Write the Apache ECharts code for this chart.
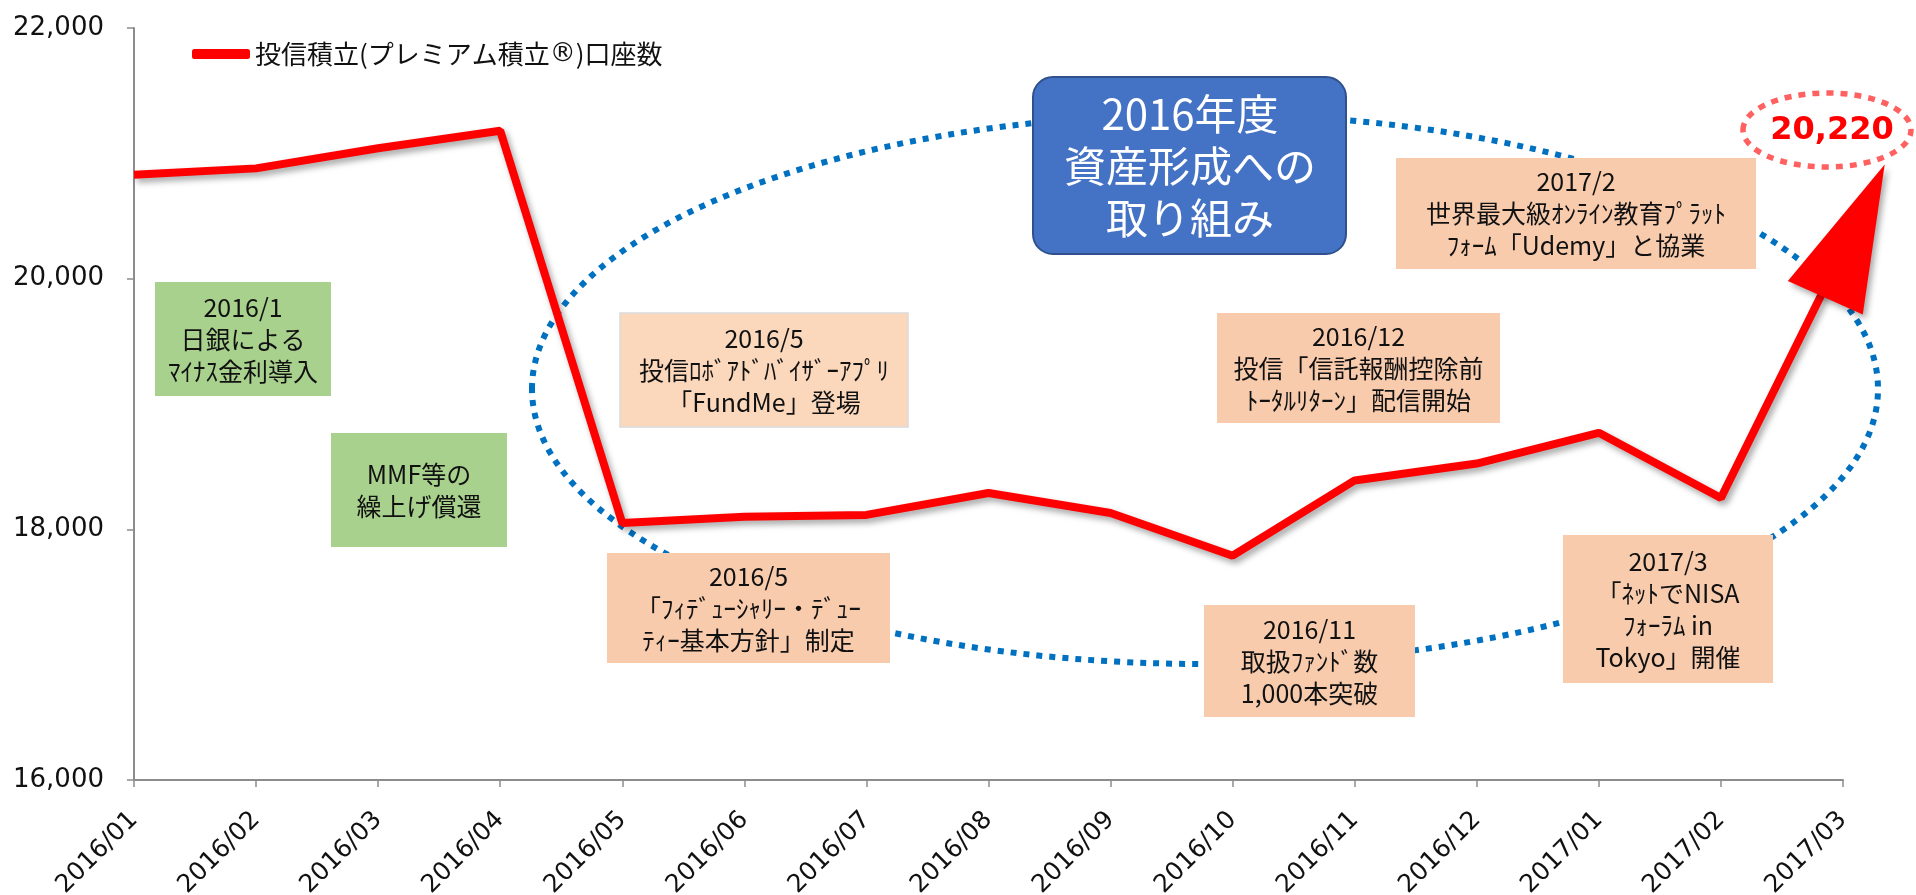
<!DOCTYPE html>
<html>
<head>
<meta charset="utf-8">
<script src="https://cdn.jsdelivr.net/npm/echarts@6/dist/echarts.min.js"></script>
<style>
html,body{margin:0;padding:0;background:#fff;}
#c{width:1916px;height:895px;}
</style>
</head>
<body>
<div id="c"></div>
<script>
// ---- data ----
const categories = ['2016/01','2016/02','2016/03','2016/04','2016/05','2016/06','2016/07','2016/08','2016/09','2016/10','2016/11','2016/12','2017/01','2017/02','2017/03'];
const accounts = [20830, 20880, 21040, 21180, 18050, 18100, 18115, 18290, 18130, 17790, 18390, 18525, 18770, 18250, 20220];
const yMin = 16000, yMax = 22000, yInterval = 2000;
const seriesName = '投信積立(プレミアム積立®)口座数';
const headline = '2016年度\n資産形成への\n取り組み';
const greenNotes = [
  '2016/1\n日銀による\nﾏｲﾅｽ金利導入',
  'MMF等の\n繰上げ償還'
];
const peachNotes = [
  '2016/5\n投信ﾛﾎﾞｱﾄﾞﾊﾞｲｻﾞｰｱﾌﾟﾘ\n「FundMe」登場',
  '2016/5\n「ﾌｨﾃﾞｭｰｼｬﾘｰ・ﾃﾞｭｰ\nﾃｨｰ基本方針」制定',
  '2016/12\n投信「信託報酬控除前\nﾄｰﾀﾙﾘﾀｰﾝ」配信開始',
  '2016/11\n取扱ﾌｧﾝﾄﾞ数\n1,000本突破',
  '2017/3\n「ﾈｯﾄでNISA\nﾌｫｰﾗﾑ in\nTokyo」開催',
  '2017/2\n世界最大級ｵﾝﾗｲﾝ教育ﾌﾟﾗｯﾄ\nﾌｫｰﾑ「Udemy」と協業'
];

// ---- layout / style ----
const JP = "'Noto Sans CJK JP', 'Noto Sans', sans-serif";
const NUM = "'DejaVu Sans', Verdana, sans-serif";
const RED = '#FF0000';

const greenLayout = [
  {x:155, y:282, w:176, h:114},
  {x:331, y:433, w:176, h:114}
];
const peachLayout = [
  {x:620, y:313, w:288, h:114, fill:'#FBD8BC', stroke:'#DADADA'},
  {x:607, y:553, w:283, h:110},
  {x:1217, y:313, w:283, h:110},
  {x:1204, y:605, w:211, h:112},
  {x:1563, y:535, w:210, h:148},
  {x:1396, y:158, w:360, h:111}
];

function boxWithText(txt, L, fill, z) {
  return [
    {type:'rect', z:z, shape:{x:L.x, y:L.y, width:L.w, height:L.h},
     style:{fill:L.fill || fill, stroke:L.stroke || null, lineWidth:L.stroke ? 1.5 : 0}},
    {type:'text', z:z+1, x:L.x + L.w/2, y:L.y + L.h/2,
     style:{text:txt, fill:'#111', font:'25px ' + JP, fontSize:25, fontFamily:JP,
            align:'center', verticalAlign:'middle', textAlign:'center', textVerticalAlign:'middle', lineHeight:32}}
  ];
}

const graphics = [];
// large dotted ellipse
graphics.push({type:'ellipse', z:0, shape:{cx:1205, cy:389, rx:673, ry:275},
  style:{fill:null, stroke:'#0070C0', lineWidth:6, lineDash:[6,7]}});
greenNotes.forEach((t,i)=>graphics.push(...boxWithText(t, greenLayout[i], '#A9D18E', 5)));
peachNotes.forEach((t,i)=>graphics.push(...boxWithText(t, peachLayout[i], '#F8CBAD', 5)));
// headline rounded box
graphics.push({type:'rect', z:5, shape:{x:1033, y:77, width:313, height:177, r:20},
  style:{fill:'#4472C4', stroke:'#2F528F', lineWidth:2}});
graphics.push({type:'text', z:6, x:1190, y:166,
  style:{text:headline, fill:'#fff', font:'42px ' + JP, fontSize:42, fontFamily:JP,
         align:'center', verticalAlign:'middle', textAlign:'center', textVerticalAlign:'middle', lineHeight:52}});
// latest value highlight
graphics.push({type:'ellipse', z:5, shape:{cx:1827, cy:130, rx:84, ry:37},
  style:{fill:'#fff', stroke:'#FF6161', lineWidth:5.5, lineDash:[7,7]}});
graphics.push({type:'text', z:6, x:1832, y:131,
  style:{text:accounts[accounts.length-1].toLocaleString('en-US'), fill:RED,
         font:'bold 32px ' + NUM, fontSize:32, fontWeight:'bold', fontFamily:NUM,
         align:'center', verticalAlign:'middle', textAlign:'center', textVerticalAlign:'middle'}});

const lineData = accounts.map((v,i)=> i === accounts.length-1
  ? {value:v, symbol:'triangle', symbolSize:[82,146], symbolRotate:-24, symbolOffset:[12,-20]}
  : v);

const chart = echarts.init(document.getElementById('c'));
chart.setOption({
  animation:false,
  backgroundColor:'#fff',
  grid:{left:134, right:73, top:28, bottom:115, containLabel:false, outerBoundsMode:'none'},
  legend:{
    data:[seriesName], left:187, top:36, icon:'roundRect', itemWidth:58, itemHeight:10,
    itemGap:10,
    formatter: name => name.replace('®', '{r|®}'),
    textStyle:{fontSize:26, fontFamily:JP, color:'#111',
      rich:{r:{fontSize:26, fontFamily:NUM, color:'#111'}}}
  },
  xAxis:{
    type:'category', data:categories, boundaryGap:false,
    axisLine:{lineStyle:{color:'#8C8C8C', width:2}},
    axisTick:{show:true, length:7, alignWithLabel:true, lineStyle:{color:'#8C8C8C', width:1.5}},
    axisLabel:{rotate:45, margin:36, fontSize:25, fontFamily:NUM, color:'#111', interval:0},
    splitLine:{show:false}
  },
  yAxis:{
    type:'value', min:yMin, max:yMax, interval:yInterval,
    axisLine:{show:true, lineStyle:{color:'#8C8C8C', width:2}},
    axisTick:{show:true, length:7, lineStyle:{color:'#8C8C8C', width:1.5}},
    axisLabel:{margin:30, fontSize:26, fontFamily:NUM, color:'#111',
               formatter:v=>v.toLocaleString('en-US')},
    splitLine:{show:false}
  },
  graphic:{elements:graphics},
  series:[{
    name:seriesName, type:'line', data:lineData, z:3,
    symbol:'circle', symbolSize:0, showSymbol:true,
    lineStyle:{color:RED, width:8, shadowColor:'rgba(0,0,0,0.35)', shadowBlur:6, shadowOffsetX:3, shadowOffsetY:4},
    itemStyle:{color:RED, shadowColor:'rgba(0,0,0,0.35)', shadowBlur:6, shadowOffsetX:3, shadowOffsetY:4},
    emphasis:{disabled:true}
  }]
});
</script>
</body>
</html>
